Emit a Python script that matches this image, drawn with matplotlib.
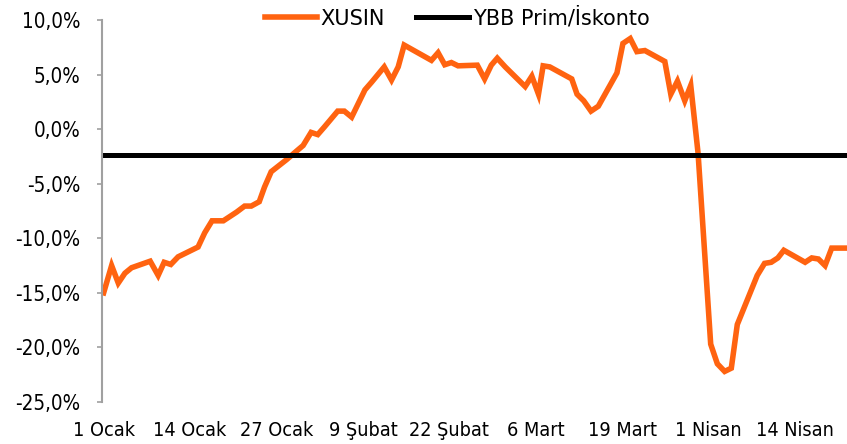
import numpy as np
import matplotlib
matplotlib.use("Agg")
import matplotlib.pyplot as plt

plt.rcParams['font.family'] = ['DejaVu Sans']
plt.rcParams['font.stretch'] = 'condensed'

# gün (1 Ocak = 0) ve XUSIN prim/iskonto (%)
xusin_gun = [0, 1.2, 2.2, 3.2, 4.2, 7.0, 8.2, 9.1, 10.1, 11.2, 14.2, 15.2, 16.3, 18.0,
             20.0, 21.2, 22.2, 23.4, 24.2, 25.2, 27.5, 29.3, 30.0, 31.2, 32.2, 33.2,
             35.2, 36.2, 37.3, 39.3, 40.3, 42.2, 43.3, 44.3, 45.2, 49.3, 50.3, 51.3,
             52.3, 53.3, 56.2, 57.3, 58.3, 59.2, 60.4, 63.4, 64.4, 65.4, 66.1, 67.1,
             70.4, 71.2, 72.2, 73.3, 74.4, 77.2, 78.1, 79.2, 80.2, 81.4, 84.4, 85.3,
             86.3, 87.4, 88.3, 89.4, 91.3, 92.3, 93.4, 94.4, 95.3, 98.3, 99.4, 100.4,
             101.4, 102.3, 105.5, 106.5, 107.5, 108.5, 109.5, 111.8]
xusin = [-15.0, -12.5, -14.1, -13.2, -12.7, -12.1, -13.4, -12.2, -12.4, -11.7, -10.8,
         -9.5, -8.4, -8.4, -7.6, -7.05, -7.05, -6.65, -5.3, -3.9, -2.8, -1.86, -1.5,
         -0.3, -0.5, 0.2, 1.65, 1.65, 1.1, 3.6, 4.3, 5.7, 4.5, 5.7, 7.7, 6.3, 7.0,
         5.9, 6.1, 5.8, 5.86, 4.6, 5.86, 6.5, 5.7, 3.9, 4.85, 3.2, 5.8, 5.7, 4.6,
         3.2, 2.6, 1.65, 2.1, 5.15, 7.85, 8.3, 7.1, 7.2, 6.2, 3.2, 4.4, 2.6, 4.0,
         -2.2, -19.7, -21.5, -22.2, -21.9, -17.9, -13.4, -12.3, -12.2, -11.8, -11.1,
         -12.2, -11.8, -11.9, -12.5, -10.9, -10.9]

ybb_gun = [-0.25, 111.8]
ybb = [-2.4, -2.4]

tarih_pos = [0, 13, 26, 39, 52, 65, 78, 91, 104]
tarih_etiket = ['1 Ocak', '14 Ocak', '27 Ocak', '9 Şubat', '22 Şubat',
                '6 Mart', '19 Mart', '1 Nisan', '14 Nisan']
y_ticks = [10, 5, 0, -5, -10, -15, -20, -25]

fig = plt.figure(figsize=(8.47, 4.44), dpi=100)
ax = fig.add_axes([0.1204, 0.0946, 0.8796, 0.8604])

ax.plot(xusin_gun, xusin, color='#FF6310', lw=4, label='XUSIN', solid_joinstyle='miter')
ax.plot(ybb_gun, ybb, color='black', lw=3.6, label='YBB Prim/İskonto')

ax.set_xlim(-0.25, 111.8)
ax.set_ylim(-25, 10)
ax.set_yticks(y_ticks)
ax.set_yticklabels([f"{v:.1f}%".replace('.', ',') for v in y_ticks])
ax.set_xticks(tarih_pos)
ax.set_xticklabels(tarih_etiket)

for s in ['top', 'right', 'bottom']:
    ax.spines[s].set_visible(False)
ax.spines['left'].set_color('#A0A0A0')
ax.spines['left'].set_linewidth(1.5)
ax.tick_params(axis='y', direction='out', length=3.6, width=1.2, color='#A0A0A0',
               pad=12, labelsize=14.8)
ax.tick_params(axis='x', length=0, pad=14, labelsize=14.2)

fig.legend(loc='center', bbox_to_anchor=(457 / 847, 1 - 18 / 444),
           bbox_transform=fig.transFigure, ncol=2, frameon=False,
           prop={'size': 15, 'stretch': 'normal'},
           handlelength=2.5, handletextpad=0.2, columnspacing=1.5)

plt.savefig('out.png', dpi=100)
